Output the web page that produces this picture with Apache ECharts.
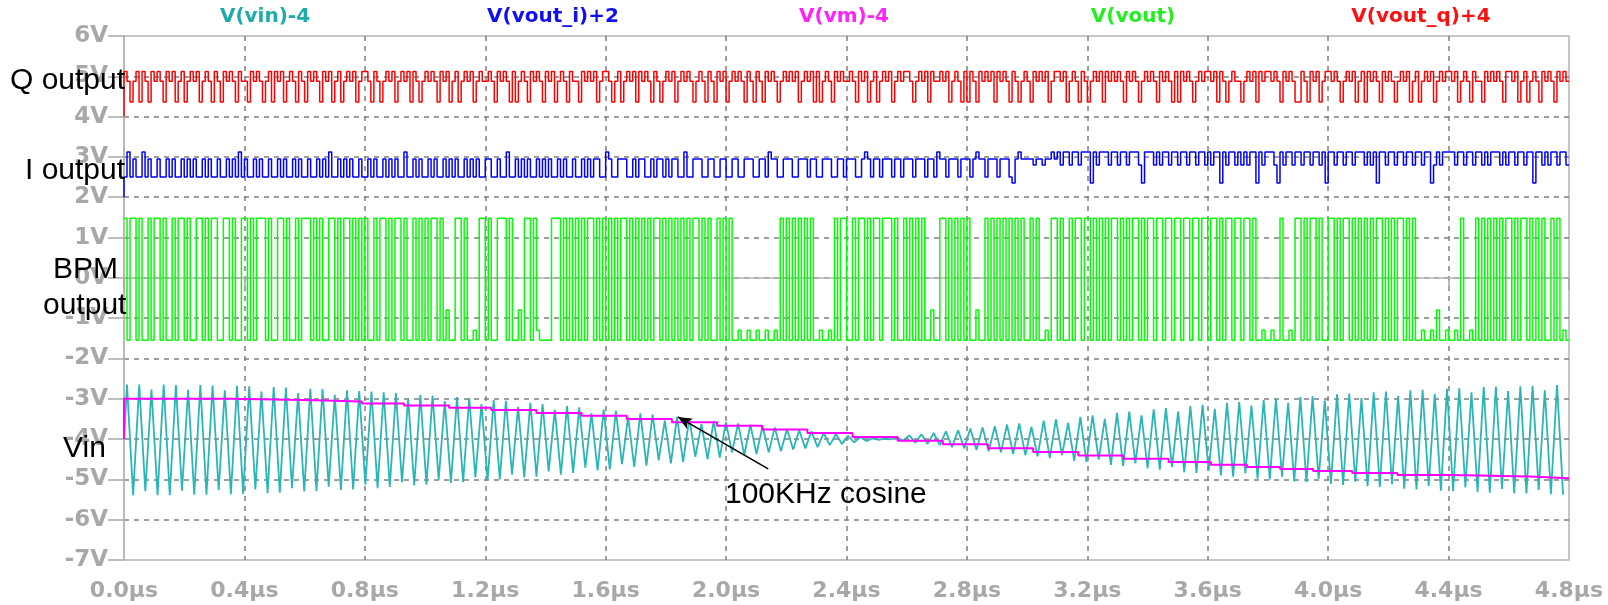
<!DOCTYPE html>
<html><head><meta charset="utf-8">
<script src="https://cdn.jsdelivr.net/npm/echarts@6/dist/echarts.min.js"></script>
<style>html,body{margin:0;padding:0;background:#fff}#c{width:1608px;height:605px}</style>
</head><body><div id="c"></div>
<script>
// ---------------- data ----------------
const seriesNames = ['V(vin)-4', 'V(vout_i)+2', 'V(vm)-4', 'V(vout)', 'V(vout_q)+4'];
const xMin = 0, xMax = 4.8, xStep = 0.4;
const yMin = -7, yMax = 6, yStep = 1;

// digital traces: one character per 0.01 µs slot
const slotUs = 0.01;
const voutLevels = {H: 1.48, L: -1.55, a: -1.3, b: -0.8};
const voutBits = [
 "HLHHLHLLHL","HHLHLLHLHH","LHLLHHLHLH","HLLHHLHLLH","HLHLHHHLHL","LHHLHLLHLH","HHLHLHLLHH","LHLHHLHLHL","HLLHLHHLHL","HHLHLLHLHL",
 "HLHHLHLbLL","HHLHLLaLHH","LHLLHHHLHL","LbLHHLHaLL","LLHHHLHLHL","HLHLHHLHLH","LHLHLHHLHL","HLHLHLHHLH","LHLHLHLHLH","HLHLHLLHLH",
 "LHLLaLLaLL","aLLaLLaLHL","HLHLHLHLHL","LaLLaLHLHH","LLHLHHLHLH","HLHHHLHLLH","LHLHLHLLbL","LHHLHLHLHL","HLLbLLHLHL","HLHLHLHLHL",
 "LHLHLLaLHH","LHLLHLHHLH","HLHLHLHLHH","LHLHLHHLHL","HHLHHLHHLH","HLHHLHHLHH","LHHLHLHHLH","HLHHLHLLaL","LaLLHLLaLH","HLHLHHLHLL",
 "HHLHLHHLHL","HLHLHLHHLH","LHLHHLHLHL","LaLLaLbLLa","LLaLHLLaLH","LHLHLHLHLH","HLHLHHLHLH","LHLLHLHLaL"
].join('');

const voutILevels = {T: 3.12, H: 2.95, h: 2.8, L: 2.5, D: 2.35};
const voutIStart = 2.0;
const voutIBits = [
 "LTLHLLTLHL","LHLLHLHLLH","LHLHLLHLHL","LHLLHLHLTL","HLLHLHLLHL","LHLHLLHLHL","LHLLHLHLTL","LHLHLHLLHL","LHLHLLHLHL","HLLTLLHLHL",
 "LHLHLLHLHL","HLLHLHLHLL","HHLLHLLTLL","HLHLHLLHLH","LHLLHLHLLH","LLHLHLHHLL","THLLHHHLLH","LHHLLHLHHL","HLHHLLTLLH","HHLLHHLLHH",
 "LLHHLLHHHL","LHHLTHHLLH","HHLLHHHLHH","LLHHHLLHHL","HHHLLHTHLH","HLHHHLHHLH","HHLHHHLHHL","THHLHHHLHH","HLHTHHLHHH","LHHHLDHTHH",
 "HHhHHhHHTH","ThTThTThTT","TDThTTThTT","hTThTTThDT","TThThTThTT","hTThTThTTh","ThTTDThTTh","ThThTTDThT","TThDThTThT","ThTThTThTD",
 "TThTThTThT","TThThTDTTh","TThTThTThT","ThTTDhThTT","TThTThTThT","ThThTTThTh","TThTThTTDT","ThThTThTTh"
].join('');

const voutQLevels = {H: 5.12, M: 4.88, L: 4.36};
const voutQStart = 4.0;
const voutQBits = [
 "HMLMHLHMLH","MHMLHMHLMH","LMHMHLMHML","HMLHMHMLHM","MLHMHMLMHL","HMHLMHMLHM","LHMHMLHMHL","MHLMHMHLMH","HMLHMLMHMH","LMHMHLHMLM",
 "HMHMLHMHLM","HLMHMHLMHM","MHMLHMHMLH","LMHMLHMHML","HMHLMHMLHM","MLHMHMHLMH","HMLMHLMHMH","LHMHMLHMLM","HMHLMHMHML","MHMLHMLHMH",
 "LMHMHMLHML","HMLHMHMLMH","MHMHLMHMHL","HLMHMLHMHM","MHMLHMHLMH","LMHMHLMHMH","HMLMHMHLHM","MHMHLMHMLH","LHMLHMHMHL","HMHMLHMLMH",
 "MLHMHMHLMH","HMHLMHMLHM","LMHMHLHMHM","HMLHMHMLMH","MHMLHMHMLH","LHMHMLMHMH","HMHLHMLMHM","MLMHMHLHMH","HMHMLHMHML","LHMLHMHLMH",
 "HMHMLMHMHL","MHLHMHMLHM","HMLMHMHLMH","LMHMHLMHMH","HMHLMHMLHM","MLHMHMHMLH","HMHLMHLMHM","LHMHMLHMHM"
].join('');

// V(vin)-4 : successive crest / trough values, one pair per carrier cycle
const vinHalfPeriod = 0.0203, vinFirst = 0.01;
const vinTop = [
 -2.65,-2.65,-2.77,-2.65,-2.66,-2.78,-2.66,-2.67,-2.79,-2.68,
 -2.69,-2.82,-2.71,-2.72,-2.86,-2.75,-2.76,-2.90,-2.79,-2.81,
 -2.82,-2.84,-2.86,-3.00,-2.90,-2.92,-3.06,-2.96,-2.98,-3.13,
 -3.03,-3.05,-3.20,-3.10,-3.13,-3.27,-3.18,-3.21,-3.36,-3.27,
 -3.30,-3.45,-3.36,-3.39,-3.54,-3.45,-3.48,-3.63,-3.55,-3.58,
 -3.61,-3.64,-3.68,-3.71,-3.75,-3.78,-3.81,-3.85,-3.88,-3.92,
 -3.95,-3.98,-3.99,-3.96,-3.91,-3.88,-3.85,-3.81,-3.78,-3.74,
 -3.71,-3.68,-3.64,-3.61,-3.70,-3.54,-3.51,-3.60,-3.45,-3.41,
 -3.50,-3.35,-3.32,-3.41,-3.26,-3.23,-3.32,-3.18,-3.15,-3.25,
 -3.10,-3.08,-3.17,-3.03,-3.00,-3.10,-2.96,-2.94,-3.04,-2.89,
 -2.87,-2.98,-2.84,-2.82,-2.93,-2.79,-2.78,-2.88,-2.75,-2.74,
 -2.84,-2.71,-2.70,-2.81,-2.69,-2.68,-2.79,-2.66
];
const vinBot = [
 -5.39,-5.29,-5.39,-5.39,-5.28,-5.38,-5.38,-5.27,-5.37,-5.36,
 -5.25,-5.34,-5.33,-5.22,-5.30,-5.29,-5.18,-5.26,-5.25,-5.13,
 -5.22,-5.19,-5.07,-5.15,-5.13,-5.01,-5.09,-5.07,-4.95,-5.02,
 -5.00,-4.88,-4.95,-4.93,-4.80,-4.88,-4.84,-4.71,-4.78,-4.75,
 -4.62,-4.69,-4.66,-4.53,-4.60,-4.57,-4.44,-4.50,-4.46,-4.33,
 -4.40,-4.37,-4.33,-4.30,-4.26,-4.23,-4.20,-4.15,-4.12,-4.08,
 -4.05,-4.02,-4.01,-4.04,-4.09,-4.12,-4.15,-4.20,-4.23,-4.27,
 -4.30,-4.33,-4.37,-4.40,-4.43,-4.47,-4.40,-4.54,-4.57,-4.51,
 -4.64,-4.67,-4.60,-4.73,-4.76,-4.69,-4.82,-4.84,-4.78,-4.90,
 -4.93,-4.85,-4.98,-5.00,-4.93,-5.05,-5.07,-4.99,-5.11,-5.14,
 -5.06,-5.17,-5.19,-5.12,-5.23,-5.25,-5.16,-5.28,-5.29,-5.20,
 -5.32,-5.33,-5.24,-5.35,-5.35,-5.26,-5.37,-5.38
];

// V(vm)-4 : sample-and-hold staircase (time µs, value V)
const vmTimes  = [0, 0, 0.35, 0.60, 0.79, 0.93, 1.08, 1.22, 1.37, 1.52, 1.67, 1.82, 1.97, 2.12, 2.27, 2.42, 2.57, 2.72, 2.87, 3.02, 3.17, 3.32, 3.47, 3.61, 3.73, 3.84, 3.95, 4.08, 4.23, 4.41, 4.67, 4.8];
const vmValues = [-4, -3.00, -3.03, -3.07, -3.12, -3.17, -3.22, -3.28, -3.35, -3.42, -3.50, -3.58, -3.67, -3.76, -3.85, -3.95, -4.04, -4.13, -4.23, -4.32, -4.41, -4.49, -4.57, -4.64, -4.69, -4.74, -4.79, -4.84, -4.89, -4.93, -4.97, -4.97];

// annotation arrow (data coordinates: µs, V)
const arrowFrom = [2.14, -4.74];
const arrowTo = [1.84, -3.45];

// ---------------- build ----------------
function digital(bits, levels, start) {
  const d = [];
  if (start !== undefined) d.push([0, start]);
  for (let i = 0; i < bits.length; i++) d.push([+(i * slotUs).toFixed(4), levels[bits[i]]]);
  d.push([xMax, levels[bits[bits.length - 1]]]);
  return d;
}
const vinData = [[0, -4]];
for (let j = 0; j < vinTop.length + vinBot.length; j++) {
  const t = +(vinFirst + j * vinHalfPeriod).toFixed(4);
  vinData.push([t, j % 2 === 0 ? vinTop[j >> 1] : vinBot[j >> 1]]);
}
const vmData = vmTimes.map((t, i) => [t, vmValues[i]]);

const colors = {vin: '#2ab6b6', vi: '#0000ff', vm: '#ff00ff', vout: '#00ff00', vq: '#ff0000'};
const titleColors = ['#20abab', '#1010ee', '#ff22ff', '#22ee22', '#ff1010'];
const titleX = [265, 553, 844, 1133, 1421];

const chart = echarts.init(document.getElementById('c'), null, {renderer: 'canvas'});
const gray = '#a8a8a8';
const tickFont = {color: gray, fontFamily: 'DejaVu Sans', fontWeight: 'bold'};
const lineSer = (name, data, color, width, extra) => Object.assign({
  name, type: 'line', data, showSymbol: false, symbol: 'none', step: 'end',
  lineStyle: {color, width}, itemStyle: {color}, animation: false, silent: true
}, extra || {});

const annot = [
  ['Q output', 10, 81], ['I output', 25, 171], ['BPM', 53, 270], ['output', 43, 306], ['Vin', 63, 449], ['100KHz cosine', 725, 495]
];

chart.setOption({
  animation: false,
  backgroundColor: '#fff',
  grid: {left: 124, right: 39, top: 36, bottom: 45, show: true, borderColor: '#b4b4b4', borderWidth: 1.5, backgroundColor: 'transparent'},
  xAxis: {
    type: 'value', min: xMin, max: xMax, interval: xStep,
    axisLine: {show: true, lineStyle: {color: '#b4b4b4', width: 1.5}},
    axisTick: {show: true, length: 12, lineStyle: {color: gray, width: 1.5}},
    axisLabel: Object.assign({fontSize: 22, margin: 20, formatter: v => v.toFixed(1) + 'µs', showMinLabel: true, showMaxLabel: true}, tickFont),
    splitLine: {show: true, showMinLine: false, showMaxLine: false, lineStyle: {color: '#7f7f7f', type: [5, 5], width: 1.5}}
  },
  yAxis: {
    type: 'value', min: yMin, max: yMax, interval: yStep,
    axisLine: {show: true, lineStyle: {color: '#b4b4b4', width: 1.5}},
    axisTick: {show: true, length: 16, lineStyle: {color: gray, width: 1.5}},
    axisLabel: Object.assign({fontSize: 23, margin: 16, formatter: v => v + 'V'}, tickFont),
    splitLine: {show: true, showMinLine: false, showMaxLine: false, lineStyle: {color: '#7f7f7f', type: [5, 5], width: 1.5}}
  },
  series: [
    lineSer(seriesNames[0], vinData, colors.vin, 1.8, {step: false}),
    lineSer(seriesNames[2], vmData, colors.vm, 2, {
      markLine: {silent: true, animation: false, symbol: ['none', 'arrow'], symbolSize: [9, 14],
        lineStyle: {color: '#000', width: 1.6, type: 'solid'}, label: {show: false},
        data: [[{coord: arrowFrom}, {coord: arrowTo}]]}}),
    lineSer(seriesNames[3], digital(voutBits, voutLevels), colors.vout, 1.5),
    lineSer(seriesNames[1], digital(voutIBits, voutILevels, voutIStart), colors.vi, 1.5),
    lineSer(seriesNames[4], digital(voutQBits, voutQLevels, voutQStart), colors.vq, 1.5)
  ],
  graphic: [
    ...seriesNames.map((n, i) => ({type: 'text', x: titleX[i], y: 17, z: 100,
      style: {text: n, fill: titleColors[i], font: 'bold 20px "DejaVu Sans"', align: 'center', verticalAlign: 'middle', textAlign: 'center', textVerticalAlign: 'middle'}})),
    ...annot.map(a => ({type: 'text', x: a[1], y: a[2], z: 100,
      style: {text: a[0], fill: '#000', font: '30px "Liberation Sans", Arial, sans-serif', align: 'left', verticalAlign: 'middle', textAlign: 'left', textVerticalAlign: 'middle'}}))
  ]
});
</script></body></html>
